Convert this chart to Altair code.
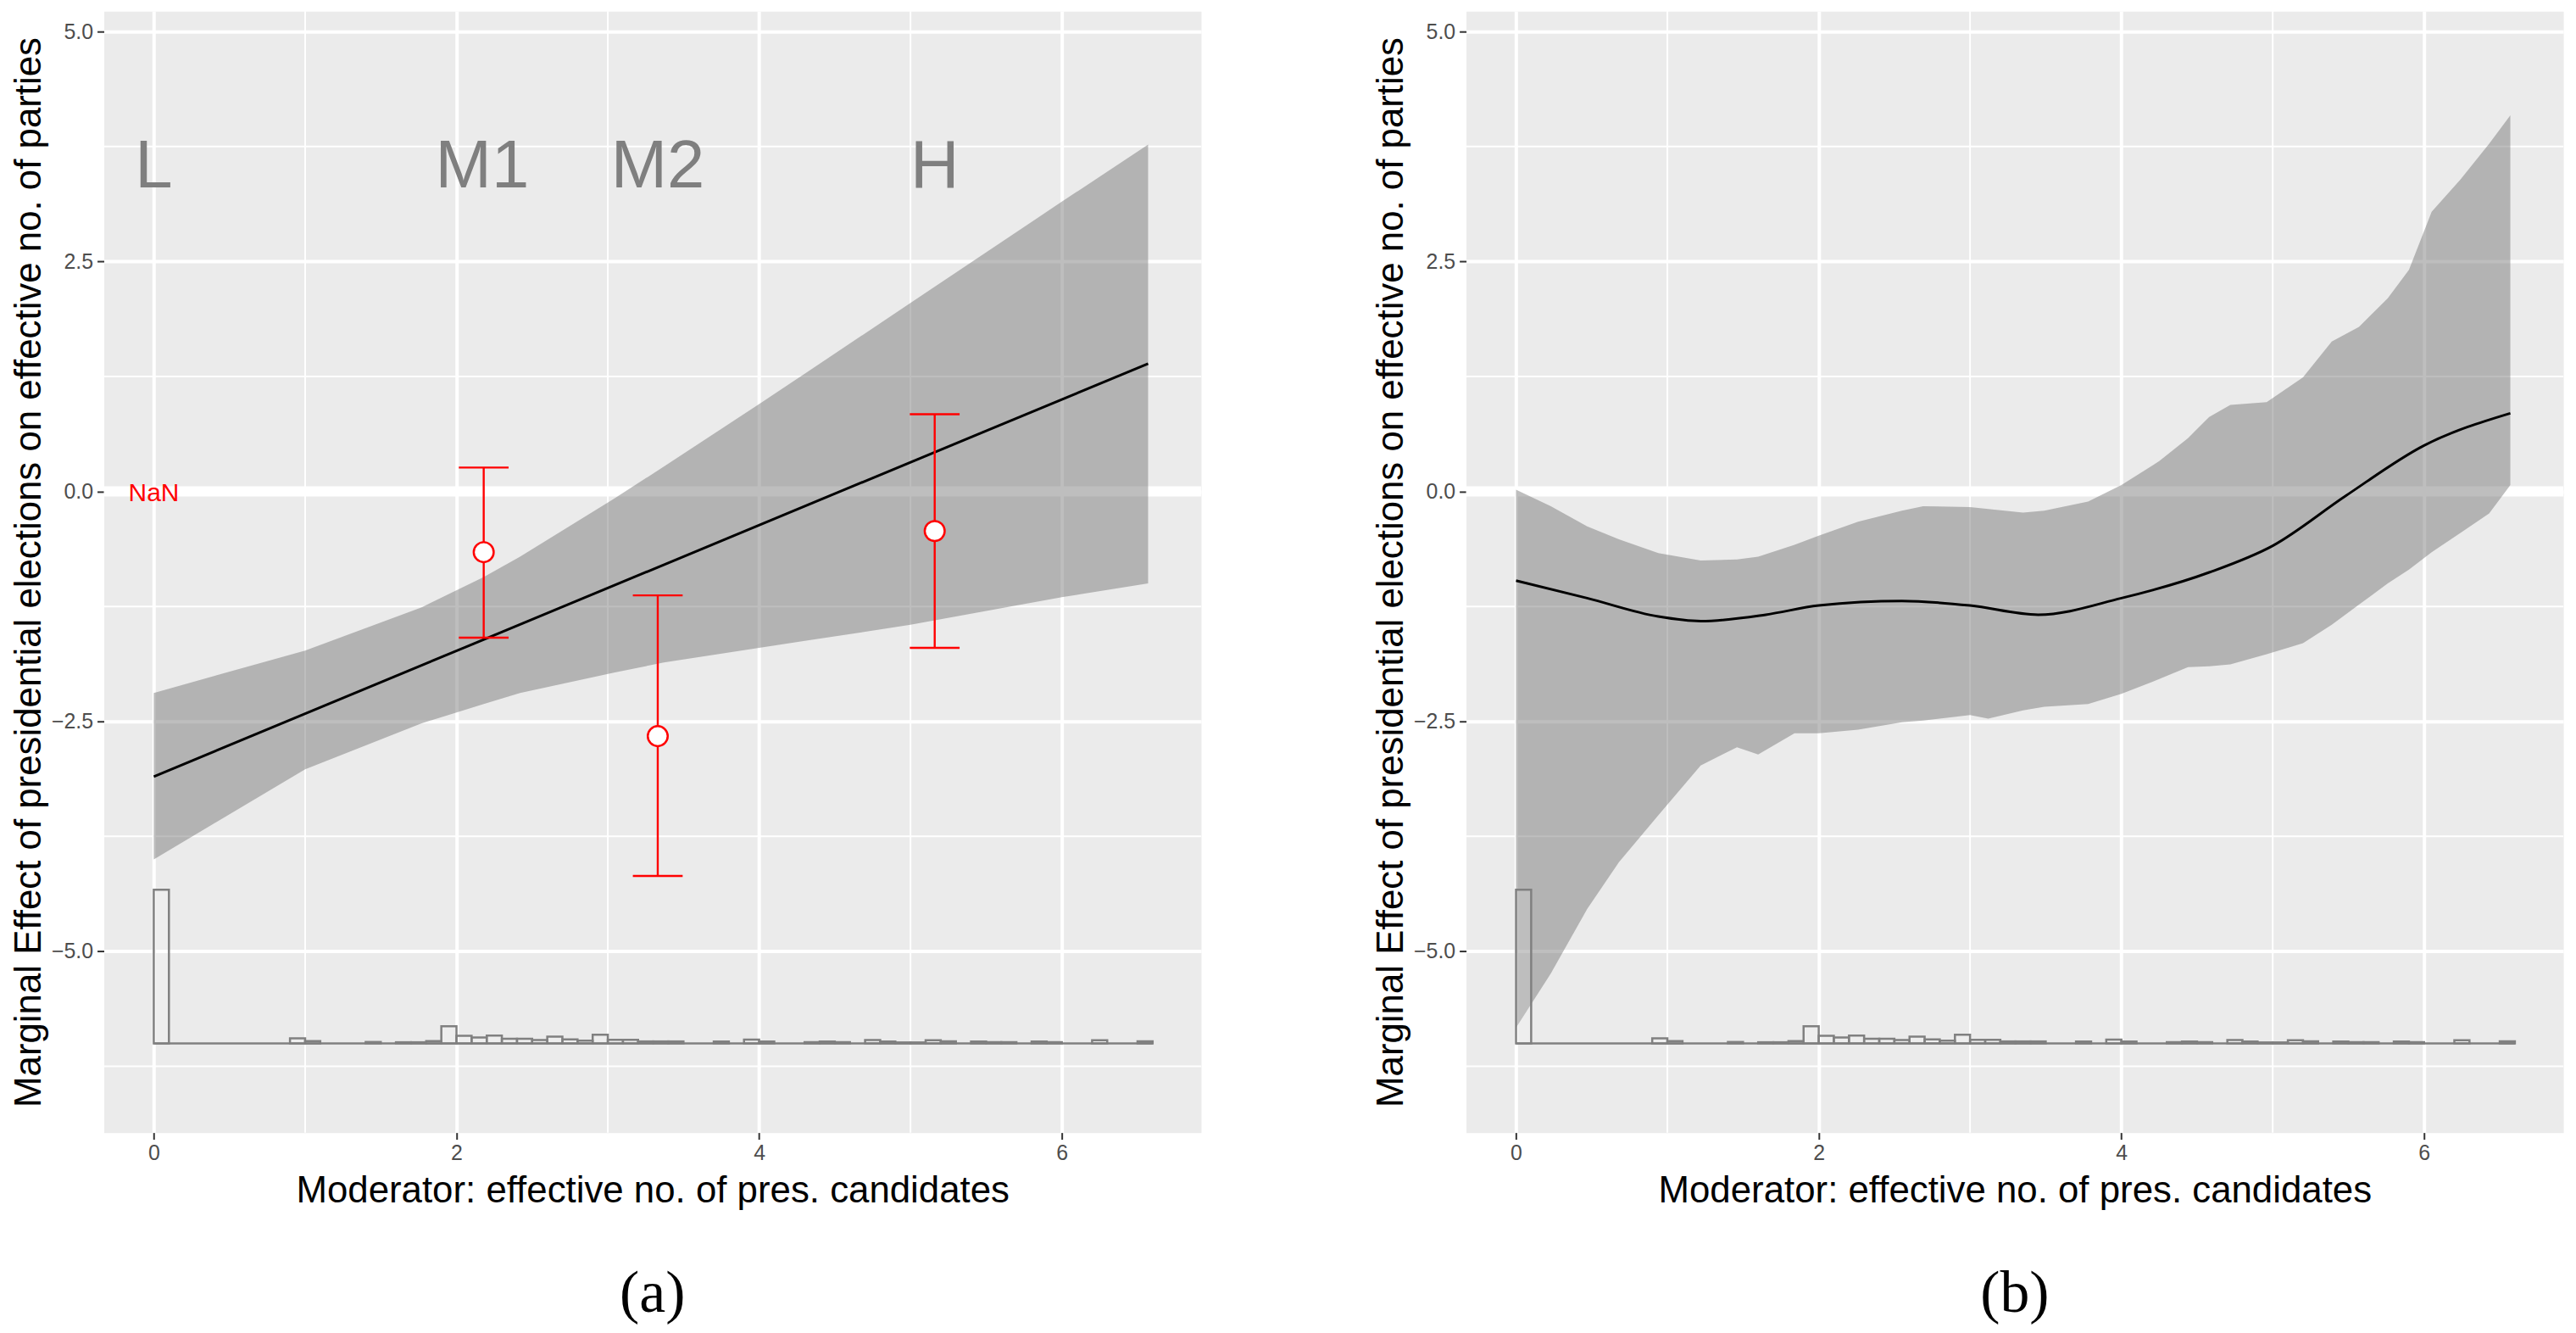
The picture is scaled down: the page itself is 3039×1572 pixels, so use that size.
import altair as alt
import pandas as pd

# x/y extents of the two panels (ggplot-style 5% expansion)
X_DOMAIN = [-0.33, 6.92]
Y_DOMAIN = [-6.97, 5.22]

# gridlines
x_major = [0, 2, 4, 6]
x_minor = [1, 3, 5]
y_major = [-5.0, -2.5, 0.0, 2.5, 5.0]
y_minor = [-6.25, -3.75, -1.25, 1.25, 3.75]

# histogram of the moderator (bin start, bar height above the base)
hist_base = -6.0
hist_end = 6.6
hist_width = 0.1
hist_start = [0.0, 0.9, 1.0, 1.4, 1.6, 1.7, 1.8, 1.9, 2.0, 2.1, 2.2, 2.3, 2.4, 2.5,
              2.6, 2.7, 2.8, 2.9, 3.0, 3.1, 3.2, 3.3, 3.4, 3.7, 3.9, 4.0, 4.3, 4.4,
              4.5, 4.7, 4.8, 4.9, 5.0, 5.1, 5.2, 5.4, 5.5, 5.6, 5.8, 5.9, 6.2, 6.5]
hist_height = [1.67, 0.054, 0.024, 0.015, 0.012, 0.012, 0.024, 0.187, 0.082, 0.063,
               0.085, 0.051, 0.051, 0.036, 0.072, 0.042, 0.030, 0.094, 0.039, 0.039,
               0.021, 0.021, 0.021, 0.020, 0.040, 0.020, 0.013, 0.020, 0.013, 0.036,
               0.020, 0.010, 0.010, 0.033, 0.023, 0.020, 0.013, 0.013, 0.020, 0.013,
               0.033, 0.023]

# panel (a): linear marginal effect with confidence band
line_a_x = [0.0, 6.57]
line_a_y = [-3.1, 1.39]
band_a_x = [0.0, 1.0, 1.77, 2.18, 2.42, 3.04, 3.37, 4.0, 4.32, 5.0, 6.0, 6.57]
band_a_hi = [-2.19, -1.73, -1.26, -0.93, -0.71, -0.08, 0.27, 0.95, 1.3, 2.05, 3.15, 3.77]
band_a_lo = [-4.0, -3.02, -2.52, -2.31, -2.19, -1.97, -1.86, -1.70, -1.62, -1.45, -1.15, -1.0]

# binning estimates (M1, M2, H)
bin_x = [2.18, 3.33, 5.16]
bin_est = [-0.66, -2.66, -0.43]
bin_lo = [-1.59, -4.18, -1.70]
bin_hi = [0.26, -1.13, 0.84]
bin_labels = ["L", "M1", "M2", "H"]
bin_label_x = [0.0, 2.17, 3.33, 5.16]
bin_label_y = 3.31
nan_x = 0.0
nan_y = -0.11

# panel (b): kernel marginal effect with confidence band
line_b_x = [0.0, 0.47, 0.94, 1.22, 1.65, 2.0, 2.55, 3.0, 3.45, 4.0, 4.58, 5.0, 5.48, 6.0, 6.57]
line_b_y = [-0.97, -1.16, -1.36, -1.41, -1.34, -1.24, -1.19, -1.24, -1.34, -1.16, -0.88,
            -0.59, -0.05, 0.5, 0.85]
band_b_x = [0.0, 0.23, 0.47, 0.68, 0.94, 1.22, 1.46, 1.6, 1.84, 2.0, 2.26, 2.55, 2.69,
            3.0, 3.12, 3.35, 3.49, 3.78, 4.0, 4.25, 4.44, 4.58, 4.72, 4.96, 5.2, 5.39,
            5.57, 5.76, 5.9, 6.05, 6.24, 6.43, 6.57]
band_b_hi = [0.02, -0.16, -0.38, -0.52, -0.67, -0.75, -0.74, -0.71, -0.58, -0.48, -0.33,
             -0.21, -0.16, -0.17, -0.19, -0.23, -0.21, -0.11, 0.07, 0.33, 0.58, 0.81,
             0.94, 0.97, 1.24, 1.63, 1.79, 2.1, 2.41, 3.04, 3.39, 3.78, 4.09]
band_b_lo = [-5.83, -5.24, -4.54, -4.03, -3.52, -2.98, -2.78, -2.86, -2.63, -2.63, -2.59,
             -2.51, -2.49, -2.43, -2.47, -2.38, -2.34, -2.31, -2.2, -2.04, -1.91, -1.90,
             -1.88, -1.77, -1.65, -1.45, -1.23, -1.0, -0.85, -0.66, -0.45, -0.24, 0.07]

FONT = "Liberation Sans"
# true minus sign in the tick labels, as in the original
MINUS = "replace(datum.label, '-', '\u2212')"

x_axis = alt.Axis(values=x_major, format="d", title="Moderator: effective no. of pres. candidates",
                  grid=True, gridColor="white", gridWidth=4, domain=False,
                  tickColor="#333333", tickSize=8, tickWidth=2,
                  labelFont=FONT, labelFontSize=25, labelColor="#4D4D4D", labelPadding=4,
                  titleFont=FONT, titleFontSize=44, titleFontWeight="normal",
                  titleColor="black", titlePadding=10)
y_axis = alt.Axis(values=y_major, format=".1f", labelExpr=MINUS,
                  title="Marginal Effect of presidential elections on effective no. of parties",
                  grid=True, gridColor="white", gridWidth=4, domain=False,
                  tickColor="#333333", tickSize=8, tickWidth=2,
                  labelFont=FONT, labelFontSize=25, labelColor="#4D4D4D", labelPadding=5,
                  titleFont=FONT, titleFontSize=44, titleFontWeight="normal",
                  titleColor="black", titlePadding=4)

x_scale = alt.Scale(domain=X_DOMAIN, nice=False, zero=False)
y_scale = alt.Scale(domain=Y_DOMAIN, nice=False, zero=False)


def X(field):
    return alt.X(field + ":Q", scale=x_scale, axis=x_axis)


def Y(field):
    return alt.Y(field + ":Q", scale=y_scale, axis=y_axis)


hist_df = pd.DataFrame({"start": hist_start, "h": hist_height})
hist_df["end"] = hist_df["start"] + hist_width
hist_df["base"] = hist_base
hist_df["top"] = hist_base + hist_df["h"]


def background():
    # minor gridlines and the thick zero line
    minor_y = alt.Chart(pd.DataFrame({"y": y_minor})).mark_rule(
        color="white", strokeWidth=2).encode(y=Y("y"))
    minor_x = alt.Chart(pd.DataFrame({"x": x_minor})).mark_rule(
        color="white", strokeWidth=2).encode(x=X("x"))
    zero = alt.Chart(pd.DataFrame({"y": [0.0]})).mark_rule(
        color="white", strokeWidth=12).encode(y=Y("y"))
    return minor_y + minor_x + zero


def histogram():
    base_line = alt.Chart(pd.DataFrame({"x": [0.0], "x2": [hist_end], "y": [hist_base]})).mark_rule(
        color="#808080", strokeWidth=2.5).encode(x=X("x"), x2="x2:Q", y=Y("y"))
    bars = alt.Chart(hist_df).mark_rect(
        fill="white", fillOpacity=0.15, stroke="#808080", strokeWidth=2.5).encode(
        x=X("start"), x2="end:Q", y=Y("base"), y2="top:Q")
    return base_line + bars


def band(xs, lo, hi):
    df = pd.DataFrame({"x": xs, "lo": lo, "hi": hi})
    return alt.Chart(df).mark_area(color="#6E6E6E", opacity=0.45).encode(
        x=X("x"), y=Y("lo"), y2="hi:Q")


def effect_line(xs, ys, interp="linear"):
    df = pd.DataFrame({"x": xs, "y": ys})
    return alt.Chart(df).mark_line(color="black", strokeWidth=3, interpolate=interp).encode(
        x=X("x"), y=Y("y"))


def sub_title(text):
    return alt.TitleParams(text=text, orient="bottom", font="Liberation Serif", fontSize=70,
                           fontWeight="normal", color="black", offset=66, anchor="middle")


# ---- panel (a)
est_df = pd.DataFrame({"x": bin_x, "est": bin_est, "lo": bin_lo, "hi": bin_hi})
err = alt.Chart(est_df).mark_rule(color="red", strokeWidth=2.4).encode(
    x=X("x"), y=Y("lo"), y2="hi:Q")
cap_lo = alt.Chart(est_df).mark_tick(orient="horizontal", color="red", size=59,
                                     thickness=2.4, opacity=1).encode(x=X("x"), y=Y("lo"))
cap_hi = alt.Chart(est_df).mark_tick(orient="horizontal", color="red", size=59,
                                     thickness=2.4, opacity=1).encode(x=X("x"), y=Y("hi"))
pts = alt.Chart(est_df).mark_circle(fill="white", stroke="red", strokeWidth=2.5,
                                    size=560, opacity=1).encode(x=X("x"), y=Y("est"))
lab_df = pd.DataFrame({"x": bin_label_x, "y": bin_label_y, "t": bin_labels})
labels = alt.Chart(lab_df).mark_text(font=FONT, fontSize=80, color="#7F7F7F",
                                     align="center", baseline="alphabetic").encode(
    x=X("x"), y=Y("y"), text="t:N")
nan_lab = alt.Chart(pd.DataFrame({"x": [nan_x], "y": [nan_y], "t": ["NaN"]})).mark_text(
    font=FONT, fontSize=30, color="red", align="center", baseline="alphabetic").encode(
    x=X("x"), y=Y("y"), text="t:N")

panel_a = alt.layer(
    background(),
    band(band_a_x, band_a_lo, band_a_hi),
    histogram(),
    effect_line(line_a_x, line_a_y),
    err, cap_lo, cap_hi, pts, labels, nan_lab,
).properties(width=1300, height=1328, title=sub_title("(a)"))

# ---- panel (b)
panel_b = alt.layer(
    background(),
    band(band_b_x, band_b_lo, band_b_hi),
    histogram(),
    effect_line(line_b_x, line_b_y, "monotone"),
).properties(width=1300, height=1328, title=sub_title("(b)"))

chart = alt.hconcat(panel_a, panel_b, spacing=196).properties(
    padding={"left": 4, "top": 0, "right": 0, "bottom": 0}
).configure_view(fill="#EBEBEB", stroke="transparent")

chart.save("out.html", embed_options={"renderer": "svg", "actions": False})
